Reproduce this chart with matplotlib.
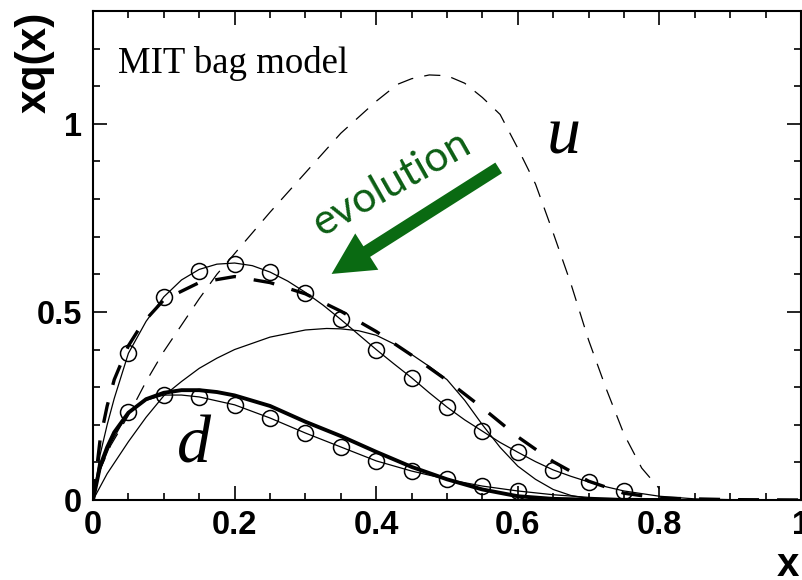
import matplotlib
matplotlib.use("Agg")
import matplotlib.pyplot as plt
from matplotlib.ticker import MultipleLocator

# u quark, bag model at the low (model) scale -- thin dashed
u_bag_x = [0, 0.01, 0.025, 0.05, 0.075, 0.1, 0.125, 0.15, 0.175, 0.2, 0.25, 0.3, 0.35,
           0.4, 0.43, 0.45, 0.475, 0.5, 0.525, 0.55, 0.575, 0.6, 0.625, 0.65, 0.675,
           0.7, 0.725, 0.75, 0.775, 0.8]
u_bag_y = [0, 0.08, 0.145, 0.225, 0.315, 0.395, 0.465, 0.535, 0.60, 0.655, 0.765, 0.87, 0.975,
           1.06, 1.105, 1.12, 1.13, 1.128, 1.108, 1.07, 1.025, 0.935, 0.84, 0.71, 0.575,
           0.425, 0.295, 0.175, 0.085, 0.03]

# d quark, bag model at the low scale -- thin solid
d_bag_x = [0, 0.02, 0.05, 0.075, 0.1, 0.125, 0.15, 0.175, 0.2, 0.25, 0.3, 0.33, 0.35, 0.375,
           0.4, 0.425, 0.45, 0.475, 0.5, 0.525, 0.55, 0.575, 0.6, 0.625, 0.65, 0.675, 0.7, 0.75]
d_bag_y = [0, 0.07, 0.155, 0.22, 0.277, 0.315, 0.35, 0.377, 0.40, 0.433, 0.452, 0.456, 0.455, 0.45,
           0.438, 0.415, 0.387, 0.355, 0.32, 0.265, 0.20, 0.14, 0.09, 0.055, 0.028, 0.012, 0.004, 0]

# u quark after evolution -- thin solid through circles
u_evo_x = [0, 0.01, 0.02, 0.03, 0.04, 0.05, 0.075, 0.1, 0.125, 0.15, 0.175, 0.2, 0.225, 0.25,
           0.275, 0.3, 0.325, 0.35, 0.375, 0.4, 0.425, 0.45, 0.475, 0.5, 0.525, 0.55, 0.575,
           0.6, 0.625, 0.65, 0.675, 0.7, 0.725, 0.75, 0.8, 0.85, 0.9, 1.0]
u_evo_y = [0, 0.12, 0.2, 0.27, 0.33, 0.39, 0.475, 0.54, 0.585, 0.613, 0.627, 0.63, 0.623, 0.606,
           0.582, 0.552, 0.518, 0.48, 0.44, 0.40, 0.362, 0.325, 0.285, 0.247, 0.213, 0.183, 0.153,
           0.127, 0.102, 0.08, 0.063, 0.048, 0.035, 0.024, 0.01, 0.003, 0.001, 0]

# u quark, alternative evolved curve -- thick dashed
u_alt_x = [0, 0.01, 0.02, 0.03, 0.05, 0.07, 0.1, 0.15, 0.2, 0.25, 0.3, 0.35, 0.4, 0.45,
           0.5, 0.55, 0.6, 0.65, 0.7, 0.75, 0.8, 0.9, 1.0]
u_alt_y = [0, 0.16, 0.25, 0.32, 0.41, 0.47, 0.532, 0.578, 0.594, 0.578, 0.548, 0.502, 0.448, 0.385,
           0.318, 0.245, 0.168, 0.102, 0.05, 0.018, 0.005, 0.001, 0]

# d quark, alternative evolved curve -- thick solid
d_alt_x = [0, 0.01, 0.02, 0.03, 0.05, 0.075, 0.1, 0.125, 0.15, 0.175, 0.2, 0.25, 0.3, 0.35,
           0.4, 0.45, 0.5, 0.55, 0.6, 0.65, 0.7, 0.8]
d_alt_y = [0, 0.09, 0.14, 0.18, 0.232, 0.268, 0.285, 0.292, 0.292, 0.287, 0.278, 0.25, 0.208, 0.17,
           0.128, 0.088, 0.055, 0.028, 0.01, 0.003, 0.001, 0]

# d quark after evolution -- thin solid through circles
d_evo_x = [0, 0.01, 0.025, 0.05, 0.075, 0.1, 0.125, 0.15, 0.2, 0.25, 0.3, 0.35, 0.4, 0.45,
           0.5, 0.55, 0.6, 0.65, 0.7, 0.75, 0.8, 1.0]
d_evo_y = [0, 0.08, 0.15, 0.234, 0.265, 0.279, 0.279, 0.274, 0.253, 0.218, 0.178, 0.141, 0.104, 0.077,
           0.055, 0.037, 0.024, 0.014, 0.007, 0.003, 0.001, 0]

# open circles
u_pts_x = [0.05, 0.1, 0.15, 0.2, 0.25, 0.3, 0.35, 0.4, 0.45, 0.5, 0.55, 0.6, 0.65, 0.7, 0.75]
u_pts_y = [0.39, 0.54, 0.61, 0.628, 0.606, 0.55, 0.48, 0.40, 0.325, 0.247, 0.183, 0.127, 0.08, 0.048, 0.024]
d_pts_x = [0.05, 0.1, 0.15, 0.2, 0.25, 0.3, 0.35, 0.4, 0.45, 0.5, 0.55, 0.6]
d_pts_y = [0.234, 0.279, 0.274, 0.253, 0.218, 0.178, 0.141, 0.104, 0.077, 0.055, 0.037, 0.024]

GREEN = "#0a6a12"

fig = plt.figure(figsize=(8.02, 5.80), dpi=100)
ax = fig.add_axes([93 / 802, 80 / 580, 708 / 802, 489 / 580])

ax.plot(u_bag_x, u_bag_y, color="black", lw=0.9, dashes=(13, 9))
ax.plot(d_bag_x, d_bag_y, color="black", lw=0.9)
ax.plot(u_evo_x, u_evo_y, color="black", lw=0.9)
ax.plot(u_alt_x, u_alt_y, color="black", lw=2.4, dashes=(6.3, 5.4))
ax.plot(d_alt_x, d_alt_y, color="black", lw=2.8)
ax.plot(d_evo_x, d_evo_y, color="black", lw=0.9)
ax.plot(u_pts_x, u_pts_y, ls="none", marker="o", ms=11.5, mfc="none", mec="black", mew=1.1)
ax.plot(d_pts_x, d_pts_y, ls="none", marker="o", ms=11.5, mfc="none", mec="black", mew=1.1)

ax.set_xlim(0, 1)
ax.set_ylim(0, 1.3)
ax.xaxis.set_major_locator(MultipleLocator(0.2))
ax.xaxis.set_minor_locator(MultipleLocator(0.05))
ax.yaxis.set_major_locator(MultipleLocator(0.5))
ax.yaxis.set_minor_locator(MultipleLocator(0.1))
ax.xaxis.set_major_formatter(plt.FuncFormatter(lambda v, p: f"{v:g}"))
ax.yaxis.set_major_formatter(plt.FuncFormatter(lambda v, p: f"{v:g}"))
ax.tick_params(which="both", direction="in", top=True, right=True, width=1.2)
ax.tick_params(which="major", length=10)
ax.tick_params(which="minor", length=5)
ax.tick_params(axis="x", which="major", pad=7)
ax.tick_params(axis="y", which="major", pad=8)
for lab in ax.get_xticklabels() + ax.get_yticklabels():
    lab.set_fontfamily("Liberation Sans")
    lab.set_fontweight("bold")
    lab.set_fontsize(23.5)
for s in ax.spines.values():
    s.set_linewidth(1.5)

fig.text(35 / 802, 1 - 12 / 580, "xq(x)", rotation=90, ha="center", va="top",
         fontsize=30.5, fontweight="bold", family="Liberation Sans")
fig.text(788 / 802, 4 / 580, "x", ha="center", va="baseline",
         fontsize=29, fontweight="bold", family="Liberation Sans")

ax.text(0.035, 1.136, "MIT bag model", fontsize=26.5, family="Liberation Serif",
        ha="left", va="baseline")
ax.text(0.64, 0.92, "u", fontsize=49, family="Liberation Serif", style="italic",
        ha="left", va="baseline")
ax.text(0.118, 0.1, "d", fontsize=49, family="Liberation Serif", style="italic",
        ha="left", va="baseline")

ax.text(0.322, 0.70, "evolution", fontsize=30.5, family="Lato", color="#0c5e14",
        rotation=29.5, rotation_mode="anchor", ha="left", va="baseline")
ax.annotate("", xy=(0.337, 0.601), xytext=(0.573, 0.883),
            arrowprops=dict(arrowstyle="simple,head_length=1.5,head_width=1.55,tail_width=0.45",
                            mutation_scale=20, color=GREEN, shrinkA=0, shrinkB=0, lw=0))

fig.savefig("out.png", dpi=100)
